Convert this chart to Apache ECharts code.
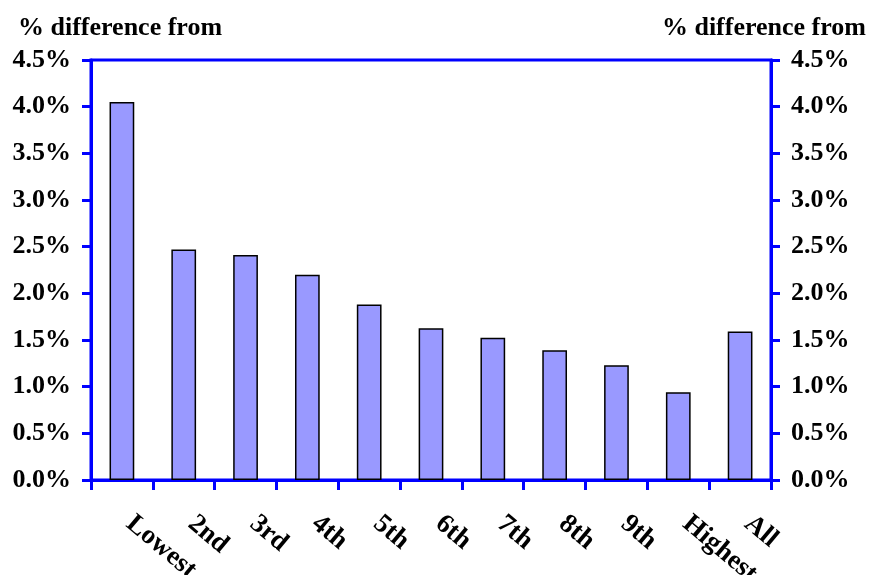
<!DOCTYPE html>
<html>
<head>
<meta charset="utf-8">
<script src="https://cdn.jsdelivr.net/npm/echarts@6/dist/echarts.min.js"></script>
<style>
  html, body { margin: 0; padding: 0; background: #fff; }
  #chart { width: 874px; height: 575px; }
</style>
</head>
<body>
<div id="chart"></div>
<script>
// Income groups along the x axis
const categories = ['Lowest', '2nd', '3rd', '4th', '5th', '6th', '7th', '8th', '9th', 'Highest', 'All'];
// Percentage difference for each group
const pctDiff = [4.05, 2.47, 2.41, 2.20, 1.88, 1.625, 1.525, 1.39, 1.23, 0.94, 1.59];
// Value axis range (percent)
const yMin = 0, yMax = 4.5, yStep = 0.5;
const axisTitle = '% difference from';

const blue = '#0000FF';
const font = { fontFamily: 'Liberation Serif', fontWeight: 'bold', fontSize: 26, color: '#000' };
const pctLabel = v => v.toFixed(1) + '%';

const valueAxis = (pos) => ({
  type: 'value',
  position: pos,
  min: yMin, max: yMax, interval: yStep,
  axisLine: { show: true, lineStyle: { color: blue, width: 3 } },
  axisTick: { show: true, length: 9, lineStyle: { color: blue, width: 3 } },
  splitLine: { show: false },
  axisLabel: Object.assign({ formatter: pctLabel, margin: 20 }, font)
});

const chart = echarts.init(document.getElementById('chart'));
chart.setOption({
  animation: false,
  backgroundColor: '#fff',
  title: [
    { text: axisTitle, left: 13, top: 10, textStyle: font },
    { text: axisTitle, right: 3, top: 10, textStyle: font }
  ],
  grid: {
    left: 91, right: 103, top: 60, bottom: 95,
    outerBoundsMode: 'none',
    containLabel: false,
    show: true, borderColor: blue, borderWidth: 3, backgroundColor: 'transparent'
  },
  xAxis: {
    type: 'category',
    data: categories,
    axisLine: { lineStyle: { color: blue, width: 3 } },
    axisTick: { show: true, length: 10, lineStyle: { color: blue, width: 3 } },
    axisLabel: Object.assign({ rotate: -40, margin: 34, interval: 0, padding: [0, 0, 0, 10] }, font, { fontSize: 27 })
  },
  yAxis: [valueAxis('left'), valueAxis('right')],
  series: [{
    type: 'bar',
    data: pctDiff,
    barWidth: '40%',
    itemStyle: { color: '#9999FF', borderColor: '#000', borderWidth: 1.5 }
  }]
});
</script>
</body>
</html>
